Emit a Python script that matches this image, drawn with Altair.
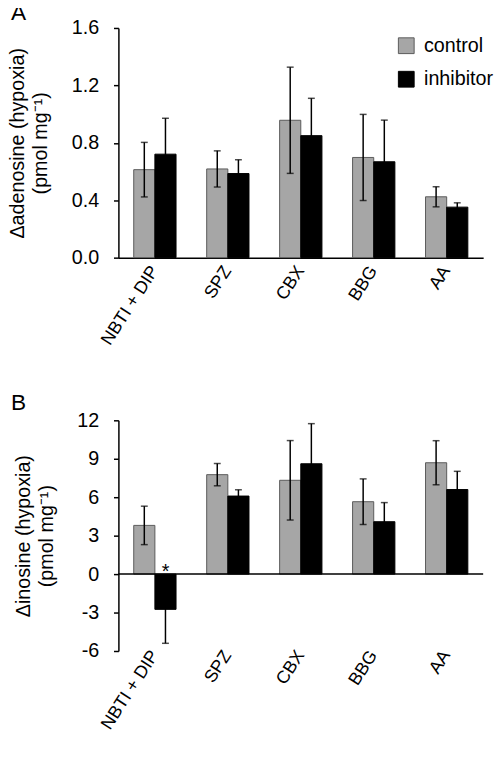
import altair as alt
import pandas as pd

categories = ["NBTI + DIP", "SPZ", "CBX", "BBG", "AA"]
groups = ["control", "inhibitor"]

ado_control = [0.613, 0.618, 0.957, 0.698, 0.424]
ado_control_err = [0.19, 0.126, 0.37, 0.30, 0.07]
ado_inhib = [0.721, 0.586, 0.85, 0.668, 0.352]
ado_inhib_err = [0.25, 0.096, 0.26, 0.29, 0.03]

ino_control = [3.8, 7.76, 7.32, 5.65, 8.69]
ino_control_err = [1.5, 0.87, 3.1, 1.78, 1.72]
ino_inhib = [-2.75, 6.09, 8.61, 4.09, 6.6]
ino_inhib_err = [2.65, 0.49, 3.13, 1.49, 1.42]

FONT = "Liberation Sans"


def make_df(ctrl, ctrl_err, inh, inh_err):
    rows = []
    for i, c in enumerate(categories):
        rows.append(dict(cat=c, group="control", value=ctrl[i],
                         lo=ctrl[i] - ctrl_err[i], hi=ctrl[i] + ctrl_err[i]))
        rows.append(dict(cat=c, group="inhibitor", value=inh[i],
                         lo=inh[i] - inh_err[i], hi=inh[i] + inh_err[i]))
    return pd.DataFrame(rows)


df_a = make_df(ado_control, ado_control_err, ado_inhib, ado_inhib_err)
df_b = make_df(ino_control, ino_control_err, ino_inhib, ino_inhib_err)

xscale = alt.Scale(domain=categories, paddingInner=0.42, paddingOuter=0.21)
offscale = alt.Scale(domain=groups, paddingInner=0, paddingOuter=0)


def panel(df, ydomain, yvalues, ytitle, letter, letter_xy, xlabpad,
          show_legend, fmt_expr, zero_rule, domain_bottom, height):
    if show_legend:
        legend = alt.Legend(
            title=None, orient="none", legendX=282, legendY=8,
            symbolType="square", symbolSize=256, symbolStrokeColor="#555555",
            symbolStrokeWidth=1, labelFontSize=20, labelFont=FONT,
            labelColor="black", rowPadding=14, labelOffset=8,
        )
    else:
        legend = None
    xaxis = alt.Axis(
        title=None, labelAngle=-57, labelAlign="right", labelBaseline="middle",
        ticks=False, domain=domain_bottom, domainColor="black", domainWidth=1.5,
        labelPadding=xlabpad, labelFontSize=18, labelFont=FONT,
        labelColor="black",
    )
    yaxis = alt.Axis(
        title=ytitle, values=yvalues, labelExpr=fmt_expr, grid=False,
        labelOverlap=False,
        domainColor="black", domainWidth=1.5, tickColor="black", tickWidth=1.5,
        tickSize=5, labelFontSize=20, labelFont=FONT, labelColor="black",
        labelPadding=15, titleFontSize=20, titleFont=FONT, titleColor="black",
        titleFontWeight="normal", titlePadding=21, titleLineHeight=23,
    )
    yscale = alt.Scale(domain=ydomain, nice=False, zero=False)
    xenc = alt.X("cat:N", scale=xscale, axis=xaxis, sort=categories)
    xo = alt.XOffset("group:N", scale=offscale, sort=groups)

    base = alt.Chart(df)
    bars = base.mark_bar(strokeWidth=1).encode(
        x=xenc, xOffset=xo,
        y=alt.Y("value:Q", scale=yscale, axis=yaxis), y2=alt.datum(0),
        color=alt.Color("group:N", sort=groups,
                        scale=alt.Scale(domain=groups, range=["#a6a6a6", "#000000"]),
                        legend=legend),
        stroke=alt.Stroke("group:N",
                          scale=alt.Scale(domain=groups, range=["#5a5a5a", "#000000"]),
                          legend=None),
    )
    err = base.mark_rule(color="black", strokeWidth=1.5).encode(
        x=xenc, xOffset=xo,
        y=alt.Y("lo:Q", scale=yscale, axis=yaxis), y2="hi:Q",
    )
    cap_hi = base.mark_tick(color="black", thickness=1.5, size=7).encode(
        x=xenc, xOffset=xo, y=alt.Y("hi:Q", scale=yscale, axis=yaxis),
    )
    cap_lo = base.mark_tick(color="black", thickness=1.5, size=7).encode(
        x=xenc, xOffset=xo, y=alt.Y("lo:Q", scale=yscale, axis=yaxis),
    )
    letter_mark = alt.Chart(pd.DataFrame({"t": [letter]})).mark_text(
        font=FONT, fontSize=23, align="left", baseline="top", color="black"
    ).encode(text="t:N", x=alt.value(letter_xy[0]), y=alt.value(letter_xy[1]))

    layers = [bars, err, cap_hi, cap_lo]
    if zero_rule:
        rule = alt.Chart(pd.DataFrame({"z": [0]})).mark_rule(
            color="black", strokeWidth=1.5).encode(
            y=alt.Y("z:Q", scale=yscale, axis=yaxis))
        star = alt.Chart(pd.DataFrame({"cat": ["NBTI + DIP"], "group": ["inhibitor"],
                                       "z": [0], "s": ["*"]})).mark_text(
            font=FONT, fontSize=20, baseline="alphabetic", dy=4, color="black"
        ).encode(x=xenc, xOffset=xo,
                 y=alt.Y("z:Q", scale=yscale, axis=yaxis), text="s:N")
        layers += [rule, star]
    layers.append(letter_mark)
    return alt.layer(*layers).properties(width=370, height=height)


panel_a = panel(df_a, [0, 1.6], [0, 0.4, 0.8, 1.2, 1.6],
                ["\u0394adenosine (hypoxia)", "(pmol mg\u207b\u00b9)"], "A",
                (-109, -26), 10, True, "format(datum.value, '.1f')", False, True, 233)
panel_b = panel(df_b, [-6, 12], [-6, -3, 0, 3, 6, 9, 12],
                ["\u0394inosine (hypoxia)", "(pmol mg\u207b\u00b9)"], "B",
                (-109, -28), 1, False, "'' + datum.value", True, False, 234)

chart = alt.vconcat(panel_a, panel_b, spacing=45).resolve_scale(
    color="independent", stroke="independent"
).configure_view(stroke=None).properties(
    padding={"top": -11, "left": 0, "right": 0, "bottom": 0}, background="white")

chart.save("out.html", embed_options={"renderer": "svg", "actions": False})
